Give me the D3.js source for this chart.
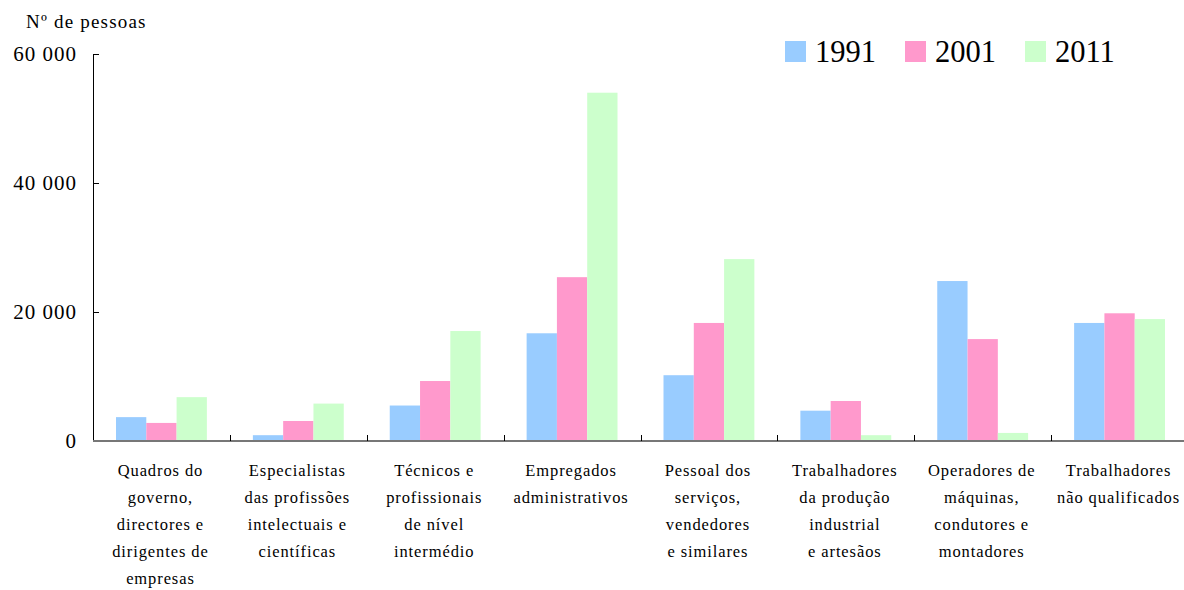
<!DOCTYPE html>
<html>
<head>
<meta charset="utf-8">
<script src="https://cdn.jsdelivr.net/npm/d3@7"></script>
<style>
  body { margin: 0; background: #fff; }
  svg { display: block; }
</style>
</head>
<body>
<div id="chart"></div>
<script>
"use strict";

const categories = [
  ["Quadros do", "governo,", "directores e", "dirigentes de", "empresas"],
  ["Especialistas", "das profissões", "intelectuais e", "científicas"],
  ["Técnicos e", "profissionais", "de nível", "intermédio"],
  ["Empregados", "administrativos"],
  ["Pessoal dos", "serviços,", "vendedores", "e similares"],
  ["Trabalhadores", "da produção", "industrial", "e artesãos"],
  ["Operadores de", "máquinas,", "condutores e", "montadores"],
  ["Trabalhadores", "não qualificados"]
];
const years = ["1991", "2001", "2011"];
const values1991 = [3700, 900, 5500, 16700, 10200, 4700, 24800, 18300];
const values2001 = [2800, 3100, 9300, 25400, 18300, 6200, 15800, 19800];
const values2011 = [6800, 5800, 17050, 54000, 28200, 900, 1250, 18900];
const yTicks = [0, 20000, 40000, 60000];
const colors = ["#99ccff", "#ff99cc", "#ccffcc"];

const width = 1184, height = 590;
const mLeft = 93, mRight = 1188, mTop = 54, mBottom = 441;
const serif = '"Liberation Serif"';

const series = [values1991, values2001, values2011];

const svg = d3.select("#chart").append("svg")
  .attr("width", width)
  .attr("height", height);

const x = d3.scaleBand()
  .domain(d3.range(categories.length))
  .range([mLeft, mRight]);

const xInner = d3.scaleBand()
  .domain(years)
  .range([23, x.bandwidth() - 23]);

const y = d3.scaleLinear()
  .domain([0, 60000])
  .range([mBottom, mTop]);

const fmt = v => d3.format(",")(v).replace(/,/g, " ");

// bars
const groups = svg.append("g").selectAll("g")
  .data(categories.map((c, i) => i))
  .join("g")
  .attr("transform", i => `translate(${x(i)},0)`);

groups.selectAll("rect")
  .data(i => years.map((yr, k) => ({ yr: yr, k: k, v: series[k][i] })))
  .join("rect")
  .attr("x", d => xInner(d.yr))
  .attr("width", xInner.bandwidth())
  .attr("y", d => y(d.v))
  .attr("height", d => y(0) - y(d.v))
  .attr("fill", d => colors[d.k]);

// y axis
const yAxis = svg.append("g")
  .attr("transform", `translate(${mLeft},0)`)
  .call(d3.axisRight(y).tickValues(yTicks).tickSize(6).tickFormat(""));
yAxis.select(".domain").attr("d", `M0.5,${mTop}V${mBottom}`).attr("stroke", "#000");
yAxis.selectAll(".tick line").attr("stroke", "#000");

svg.append("g").selectAll("text")
  .data(yTicks)
  .join("text")
  .attr("x", 77)
  .attr("y", d => y(d) + 7)
  .attr("text-anchor", "end")
  .style("font-family", serif)
  .style("font-size", "21px")
  .style("letter-spacing", "1px")
  .attr("fill", "#000")
  .text(fmt);

// x axis
const xAxis = svg.append("g")
  .attr("transform", `translate(0,${mBottom})`);
xAxis.append("line")
  .attr("x1", mLeft).attr("x2", mRight)
  .attr("y1", 0).attr("y2", 0)
  .attr("stroke", "#777").attr("stroke-width", 2);
xAxis.selectAll(".sep")
  .data(d3.range(1, categories.length))
  .join("line")
  .attr("class", "sep")
  .attr("x1", i => Math.round(x(i)) + 0.5).attr("x2", i => Math.round(x(i)) + 0.5)
  .attr("y1", 0).attr("y2", -6)
  .attr("stroke", "#000");

// category labels
const labels = svg.append("g").selectAll("text")
  .data(categories)
  .join("text")
  .attr("text-anchor", "middle")
  .style("font-family", serif)
  .style("font-size", "16.5px")
  .style("letter-spacing", "0.9px")
  .attr("fill", "#000");
labels.selectAll("tspan")
  .data((d, i) => d.map(line => ({ line: line, i: i })))
  .join("tspan")
  .attr("x", d => x(d.i) + x.bandwidth() / 2 - 1)
  .attr("y", (d, j) => 476 + j * 27)
  .text(d => d.line);

// axis title
svg.append("text")
  .attr("x", 26)
  .attr("y", 28)
  .style("font-family", serif)
  .style("font-size", "19px")
  .style("letter-spacing", "1.2px")
  .text("Nº de pessoas");

// legend
const legend = svg.append("g").selectAll("g")
  .data(years)
  .join("g")
  .attr("transform", (d, i) => `translate(${785 + i * 120},41)`);
legend.append("rect")
  .attr("width", 21).attr("height", 21)
  .attr("fill", (d, i) => colors[i]);
legend.append("text")
  .attr("x", 30)
  .attr("y", 21)
  .style("font-family", serif)
  .style("font-size", "30.5px")
  .text(d => d);
</script>
</body>
</html>
